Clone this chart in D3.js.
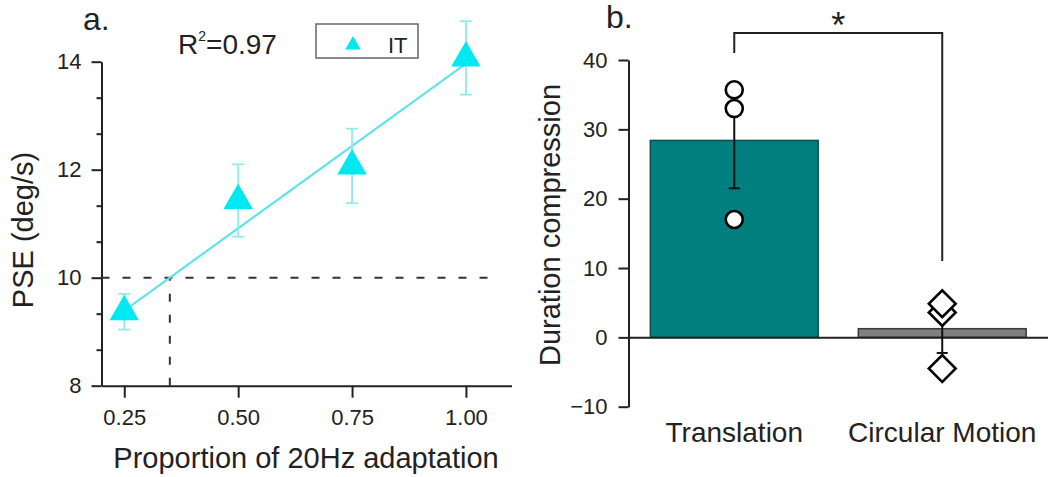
<!DOCTYPE html>
<html>
<head>
<meta charset="utf-8">
<script src="https://cdn.jsdelivr.net/npm/d3@7"></script>
<style>
  html, body { margin: 0; padding: 0; background: #fff; }
  svg { display: block; font-family: "Liberation Sans", Arial, sans-serif; }
  text { fill: #222; }
</style>
</head>
<body>
<svg id="fig" width="1048" height="477"></svg>
<script>
// ---- Panel a: PSE vs proportion of 20Hz adaptation ----
const proportions = [0.25, 0.50, 0.75, 1.00];
const pseMeans    = [9.37, 11.43, 12.07, 14.07];
const pseErrors   = [0.33, 0.67, 0.69, 0.68];
const fitSlope = 6.1;
const fitIntercept = 7.865;
const fitRange = [0.25, 1.00];
const pseThreshold = 10;
const pseTicks = [8, 10, 12, 14];
const pseMinorTicks = [8 + 2/3, 9 + 1/3, 10 + 2/3, 11 + 1/3, 12 + 2/3, 13 + 1/3];
const propTicks = [0.25, 0.50, 0.75, 1.00];
const rSquared = "0.97";
const seriesName = "IT";

// ---- Panel b: duration compression by motion type ----
const conditions = ["Translation", "Circular Motion"];
const compressionMeans = [28.4, 1.25];
const compressionErrors = [6.9, 3.5];
const translationPoints = [35.7, 33.0, 17.0];
const circularPoints = [3.6, 4.85, -4.5];
const compressionTicks = [-10, 0, 10, 20, 30, 40];
const bracketTop = 43.9;
const bracketEnds = [41.0, 11.0];

const svg = d3.select("#fig");
const ink = "#222";

// ================= Panel a =================
const xA = d3.scaleLinear().domain([0.2, 1.1]).range([101.5, 511.5]);
const yA = d3.scaleLinear().domain([8, 14]).range([385.7, 61.7]);
const gA = svg.append("g");

// minor y ticks
gA.append("g")
  .attr("transform", `translate(${xA.range()[0]},0)`)
  .call(d3.axisLeft(yA).tickValues(pseMinorTicks).tickSize(5).tickFormat(""))
  .call(g => g.select(".domain").remove())
  .call(g => g.selectAll("line").attr("stroke", ink).attr("stroke-width", 2));

// major y axis
gA.append("g")
  .attr("transform", `translate(${xA.range()[0]},0)`)
  .call(d3.axisLeft(yA).tickValues(pseTicks).tickSize(10).tickSizeOuter(0).tickPadding(10).tickFormat(d3.format("d")))
  .call(g => g.selectAll("path, line").attr("stroke", ink).attr("stroke-width", 2))
  .call(g => g.selectAll("text").attr("font-size", 22).attr("fill", "#333")
    .attr("font-family", '"Liberation Sans", Arial, sans-serif'));

// x axis
gA.append("g")
  .attr("transform", `translate(0,${yA(8)})`)
  .call(d3.axisBottom(xA).tickValues(propTicks).tickSize(12).tickSizeOuter(0).tickPadding(12).tickFormat(d3.format(".2f")))
  .call(g => g.selectAll("path, line").attr("stroke", ink).attr("stroke-width", 2))
  .call(g => g.selectAll("text").attr("font-size", 22).attr("fill", "#333")
    .attr("font-family", '"Liberation Sans", Arial, sans-serif'));

// threshold guides
const crossX = (pseThreshold - fitIntercept) / fitSlope;
gA.append("line")
  .attr("x1", xA.range()[0]).attr("x2", xA(1.06))
  .attr("y1", yA(pseThreshold)).attr("y2", yA(pseThreshold))
  .attr("stroke", "#333").attr("stroke-width", 2).attr("stroke-dasharray", "8,13");
gA.append("line")
  .attr("x1", xA(crossX)).attr("x2", xA(crossX))
  .attr("y1", yA(8)).attr("y2", yA(pseThreshold))
  .attr("stroke", "#333").attr("stroke-width", 2).attr("stroke-dasharray", "8,13");

// linear fit
gA.append("path")
  .datum(fitRange.map(x => [x, fitIntercept + fitSlope * x]))
  .attr("d", d3.line().x(d => xA(d[0])).y(d => yA(d[1])))
  .attr("fill", "none").attr("stroke", "#5ee4ea").attr("stroke-width", 2.2);

// error bars
const ptsA = proportions.map((p, i) => ({ x: p, y: pseMeans[i], e: pseErrors[i] }));
const errA = gA.append("g").attr("stroke", "#8eecee").attr("stroke-width", 1.8);
ptsA.forEach(d => {
  const cx = xA(d.x);
  errA.append("line").attr("x1", cx).attr("x2", cx).attr("y1", yA(d.y - d.e)).attr("y2", yA(d.y + d.e));
  [d.y - d.e, d.y + d.e].forEach(v =>
    errA.append("line").attr("x1", cx - 6).attr("x2", cx + 6).attr("y1", yA(v)).attr("y2", yA(v)));
});

// triangles
const triColor = "#00e9f2";
gA.selectAll("path.tri").data(ptsA).join("path")
  .attr("class", "tri")
  .attr("d", d3.symbol(d3.symbolTriangle, 375))
  .attr("transform", d => `translate(${xA(d.x)},${yA(d.y)})`)
  .attr("fill", triColor);

// legend
const legend = gA.append("g");
legend.append("rect").attr("x", 316).attr("y", 24).attr("width", 102).attr("height", 34)
  .attr("fill", "#fff").attr("stroke", "#666").attr("stroke-width", 1.5);
legend.append("path").attr("d", d3.symbol(d3.symbolTriangle, 105))
  .attr("transform", "translate(353,45)").attr("fill", triColor);
legend.append("text").attr("x", 388).attr("y", 53).attr("font-size", 22).text(seriesName);

// R² annotation
const r2 = gA.append("text").attr("x", 178).attr("y", 54).attr("font-size", 28);
r2.append("tspan").text("R");
r2.append("tspan").attr("font-size", 14).attr("dy", -13).text("2");
r2.append("tspan").attr("dy", 13).text("=" + rSquared);

// axis titles and panel label
gA.append("text").attr("x", 306).attr("y", 468).attr("text-anchor", "middle")
  .attr("font-size", 29).text("Proportion of 20Hz adaptation");
gA.append("text").attr("transform", "translate(33,230) rotate(-90)").attr("text-anchor", "middle")
  .attr("font-size", 29).text("PSE (deg/s)");
gA.append("text").attr("x", 83).attr("y", 30).attr("font-size", 32).text("a.");

// ================= Panel b =================
const xB = d3.scaleBand().domain(conditions).range([628.5, 1048]).paddingInner(0.193).paddingOuter(0.105);
const yB = d3.scaleLinear().domain([-10, 40]).range([406.7, 60]);
const gB = svg.append("g");

const barFill = ["#007f7f", "#7f7f7f"];
const barStroke = ["#0a4f4f", "#3a3a3a"];
gB.selectAll("rect.bar").data(conditions).join("rect")
  .attr("class", "bar")
  .attr("x", d => xB(d))
  .attr("width", xB.bandwidth())
  .attr("y", (d, i) => yB(Math.max(0, compressionMeans[i])))
  .attr("height", (d, i) => Math.abs(yB(compressionMeans[i]) - yB(0)))
  .attr("fill", (d, i) => barFill[i])
  .attr("stroke", (d, i) => barStroke[i]).attr("stroke-width", 1.5);

// y axis
gB.append("g")
  .attr("transform", `translate(${xB.range()[0]},0)`)
  .call(d3.axisLeft(yB).tickValues(compressionTicks).tickSize(10).tickSizeOuter(0).tickPadding(11).tickFormat(d3.format("d")))
  .call(g => g.selectAll("path, line").attr("stroke", ink).attr("stroke-width", 2))
  .call(g => g.selectAll("text").attr("font-size", 22).attr("fill", "#333")
    .attr("font-family", '"Liberation Sans", Arial, sans-serif'));

// zero baseline with category labels
gB.append("g")
  .attr("transform", `translate(0,${yB(0)})`)
  .call(d3.axisBottom(xB).tickSize(0).tickSizeOuter(0).tickPadding(0))
  .call(g => g.select(".domain").attr("stroke", ink).attr("stroke-width", 2))
  .call(g => g.selectAll("text").attr("font-size", 28).attr("fill", "#222")
    .attr("font-family", '"Liberation Sans", Arial, sans-serif')
    .attr("y", yB(-10) - yB(0) + 35).attr("dy", 0));

// error bars
const errB = gB.append("g").attr("stroke", "#111").attr("stroke-width", 2);
conditions.forEach((c, i) => {
  const cx = xB(c) + xB.bandwidth() / 2;
  const lo = compressionMeans[i] - compressionErrors[i];
  const hi = compressionMeans[i] + compressionErrors[i];
  errB.append("line").attr("x1", cx).attr("x2", cx).attr("y1", yB(lo)).attr("y2", yB(hi));
  [lo, hi].forEach(v =>
    errB.append("line").attr("x1", cx - 5.5).attr("x2", cx + 5.5).attr("y1", yB(v)).attr("y2", yB(v)));
});

// individual points
const cxT = xB(conditions[0]) + xB.bandwidth() / 2;
const cxC = xB(conditions[1]) + xB.bandwidth() / 2;
gB.selectAll("circle.pt").data(translationPoints).join("circle")
  .attr("class", "pt")
  .attr("cx", cxT).attr("cy", d => yB(d)).attr("r", 8.5)
  .attr("fill", "#fff").attr("stroke", "#000").attr("stroke-width", 2.6);
gB.selectAll("path.dia").data(circularPoints).join("path")
  .attr("class", "dia")
  .attr("d", d3.symbol(d3.symbolSquare, 360))
  .attr("transform", d => `translate(${cxC},${yB(d)}) rotate(45)`)
  .attr("fill", "#fff").attr("stroke", "#000").attr("stroke-width", 2.6);

// significance bracket
gB.append("path")
  .attr("d", d3.line()([[cxT, yB(bracketEnds[0])], [cxT, yB(bracketTop)], [cxC, yB(bracketTop)], [cxC, yB(bracketEnds[1])]]))
  .attr("fill", "none").attr("stroke", "#222").attr("stroke-width", 2);
gB.append("text").attr("x", (cxT + cxC) / 2).attr("y", 38).attr("text-anchor", "middle")
  .attr("font-size", 36).text("*");

// axis title and panel label
gB.append("text").attr("transform", "translate(560,225) rotate(-90)").attr("text-anchor", "middle")
  .attr("font-size", 29).text("Duration compression");
gB.append("text").attr("x", 606).attr("y", 28).attr("font-size", 32).text("b.");
</script>
</body>
</html>
